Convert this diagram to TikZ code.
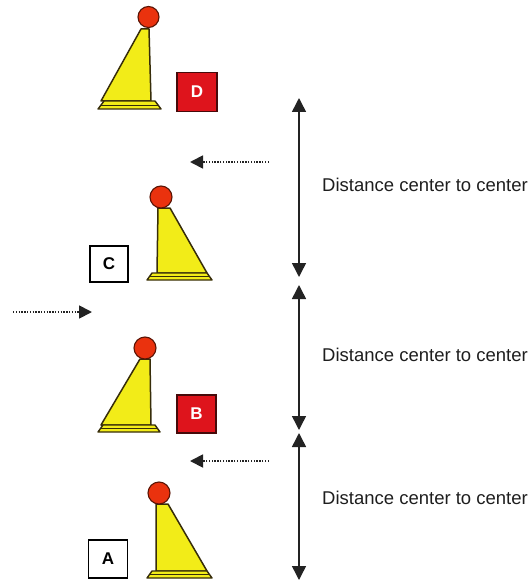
\documentclass[tikz,border=0pt]{standalone}
\usepackage{fontspec}
\setmainfont{Liberation Sans}
\usetikzlibrary{arrows.meta}
\definecolor{coneyellow}{RGB}{242,236,24}
\definecolor{coneedge}{RGB}{55,45,10}
\definecolor{ballred}{RGB}{234,50,14}
\definecolor{balledge}{RGB}{90,20,5}
\definecolor{boxred}{RGB}{222,20,28}
\definecolor{boxedge}{RGB}{70,10,10}
\definecolor{arrowgray}{RGB}{35,35,35}
\definecolor{textgray}{RGB}{30,30,30}
\tikzset{
  conebody/.style={fill=coneyellow, draw=coneedge, line width=1.5pt, line join=round},
  coneflange/.style={fill=coneyellow, draw=coneedge, line width=1.4pt, line join=round},
  flangeline/.style={draw=coneedge, line width=0.6pt},
  ball/.style={fill=ballred, draw=balledge, line width=1.1pt},
  redbox/.style={fill=boxred, draw=boxedge, line width=1.3pt, text=white, inner sep=0pt,
     font=\fontsize{17}{17}\selectfont\bfseries},
  whitebox/.style={fill=white, draw=black, line width=1.3pt, text=black, inner sep=0pt,
     font=\fontsize{17}{17}\selectfont\bfseries},
  distarrow/.style={draw=arrowgray, line width=1.5pt, {Triangle[length=14pt,width=14pt]}-{Triangle[length=14pt,width=14pt]}},
  dotarrow/.style={draw=arrowgray, line width=1.8pt, dash pattern=on 1.4pt off 1.4pt, -{Triangle[length=13pt,width=13pt]}},
  distlabel/.style={anchor=west, inner sep=0pt, text=textgray, font=\fontsize{18.5}{18.5}\selectfont}
}
\begin{document}
\begin{tikzpicture}[x=1pt,y=-1pt]
\useasboundingbox (0,0) rectangle (530,583);

% ---------- cone D (left-leaning) ----------
\draw[conebody] (141,29) -- (149,29) -- (151,101) -- (101,101) -- cycle;
\draw[coneflange] (98,109) -- (104,101) -- (155,101) -- (161,109) -- cycle;
\draw[flangeline] (101,105.5) -- (158,105.5);
\draw[ball] (148.5,17) circle[radius=10.5];
\node[redbox, minimum width=40pt, minimum height=39pt] (D) at (197,92) {D};

% ---------- cone C (right-leaning) ----------
\draw[conebody] (158,208) -- (170,208) -- (207,273) -- (157,273) -- cycle;
\draw[coneflange] (147,280) -- (152,273) -- (207,273) -- (212,280) -- cycle;
\draw[flangeline] (150,276.5) -- (209,276.5);
\draw[ball] (161,197) circle[radius=11];
\node[whitebox, minimum width=38pt, minimum height=36pt] (C) at (109,264) {C};

% ---------- cone B (left-leaning) ----------
\draw[conebody] (140,359) -- (150,359) -- (151,425) -- (101,425) -- cycle;
\draw[coneflange] (98,432) -- (103,425) -- (155,425) -- (160,432) -- cycle;
\draw[flangeline] (100.5,428.5) -- (157.5,428.5);
\draw[ball] (145,348) circle[radius=11];
\node[redbox, minimum width=39pt, minimum height=38pt] (B) at (196.5,414) {B};

% ---------- cone A (right-leaning) ----------
\draw[conebody] (156,504) -- (168,504) -- (207,571) -- (156,571) -- cycle;
\draw[coneflange] (147,578) -- (152,571) -- (207,571) -- (212,578) -- cycle;
\draw[flangeline] (150,574.5) -- (209,574.5);
\draw[ball] (159,493) circle[radius=11];
\node[whitebox, minimum width=39pt, minimum height=38pt] (A) at (108,559) {A};

% ---------- distance arrows ----------
\coordinate (v1a) at (299,98);
\coordinate (v1b) at (299,277);
\coordinate (v2a) at (299,285);
\coordinate (v2b) at (299,430);
\coordinate (v3a) at (299,433);
\coordinate (v3b) at (299,580);
\draw[distarrow] (v1a) -- (v1b);
\draw[distarrow] (v2a) -- (v2b);
\draw[distarrow] (v3a) -- (v3b);

\node[distlabel] (t1) at (322,185) {Distance center to center};
\node[distlabel] (t2) at (322,355) {Distance center to center};
\node[distlabel] (t3) at (322,498) {Distance center to center};

% ---------- dotted direction arrows ----------
\coordinate (h1s) at (269,162);
\coordinate (h1e) at (190,162);
\coordinate (h2s) at (13,312);
\coordinate (h2e) at (92,312);
\coordinate (h3s) at (269,461);
\coordinate (h3e) at (190,461);
\draw[dotarrow] (h1s) -- (h1e);
\draw[dotarrow] (h2s) -- (h2e);
\draw[dotarrow] (h3s) -- (h3e);
\end{tikzpicture}
\end{document}
